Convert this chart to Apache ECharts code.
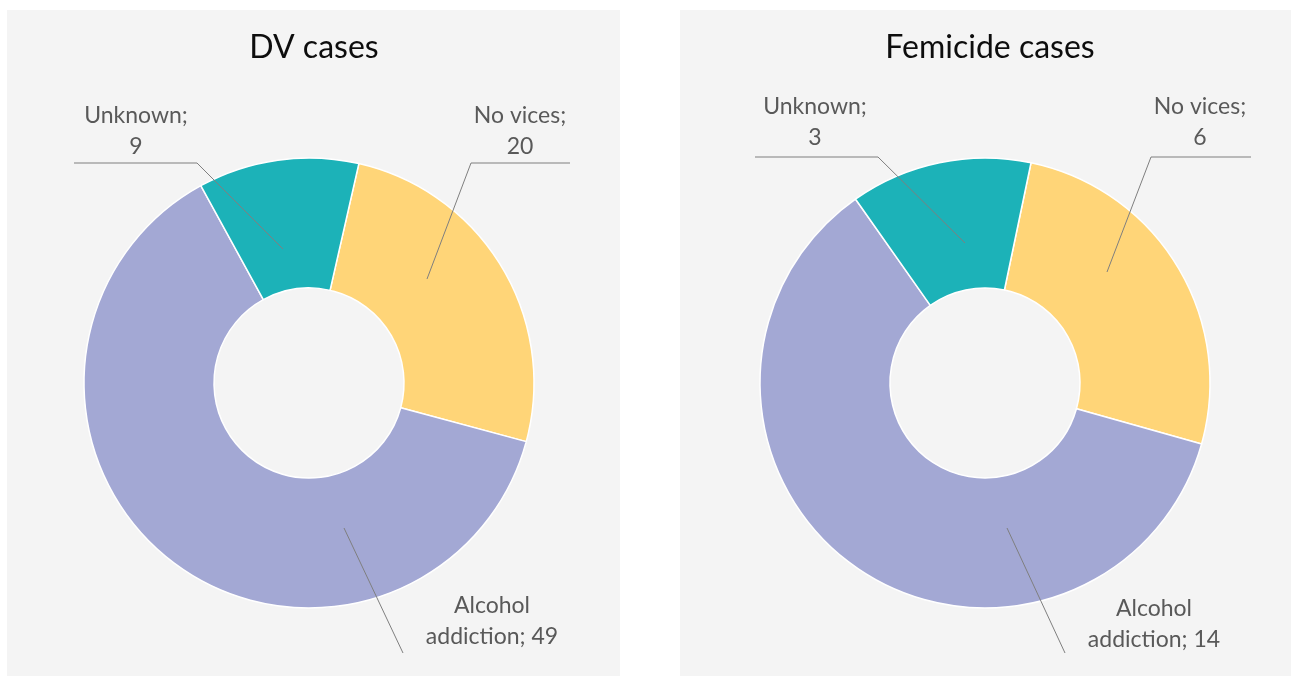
<!DOCTYPE html>
<html>
<head>
<meta charset="utf-8">
<script src="https://cdn.jsdelivr.net/npm/echarts@6/dist/echarts.min.js"></script>
<style>
  html, body { margin: 0; padding: 0; background: #fff; }
  #chart { width: 1291px; height: 676px; }
</style>
</head>
<body>
<div id="chart"></div>
<script>
// categories and values
const categories = ["No vices", "Alcohol addiction", "Unknown"]
const dvValues = [20, 49, 9]
const femicideValues = [6, 14, 3]
const titles = ["DV cases", "Femicide cases"]

const sliceColors = ["#FFD578", "#A3A8D4", "#1CB2B8"]
const font = "Lato, 'Open Sans', sans-serif"

// label placement relative to each donut centre (text centre + leader line points)
const dvSpots = [
  { text: [211, -252], line: [[118, -104], [162, -220], [261, -220]] },
  { text: [183, 238], line: [[35, 145], [94, 270]] },
  { text: [-173, -252], line: [[-26, -134], [-112, -220], [-235, -220]] },
]
const femicideSpots = [
  { text: [215, -261], line: [[122, -111], [166, -226], [266, -226]] },
  { text: [169, 241], line: [[22, 145], [80, 270]] },
  { text: [-170, -261], line: [[-20, -140], [-107, -226], [-230, -226]] },
]

function labelText(p) {
  const name = p.name
  if (name.indexOf(" ") > 0 && name.length > 10) {
    const i = name.indexOf(" ")
    return name.slice(0, i) + "\n" + name.slice(i + 1) + "; " + p.value
  }
  return name + ";\n" + p.value
}

function donut(values, center, startAngle) {
  return {
    type: "pie",
    center: center,
    radius: [95, 225],
    startAngle: startAngle,
    clockwise: true,
    silent: true,
    animation: false,
    z: 2,
    itemStyle: { borderColor: "#ffffff", borderWidth: 1.5 },
    label: { show: false },
    labelLine: { show: false },
    data: values.map((v, i) => ({
      name: categories[i],
      value: v,
      itemStyle: { color: sliceColors[i] },
    })),
  }
}

// transparent copy on top, carrying the labels and leader lines
function labels(values, center, startAngle, spots) {
  const [cx, cy] = center
  return {
    type: "pie",
    center: center,
    radius: [95, 225],
    startAngle: startAngle,
    clockwise: true,
    avoidLabelOverlap: false,
    silent: true,
    animation: false,
    z: 5,
    itemStyle: { color: "rgba(0,0,0,0)", borderWidth: 0 },
    label: {
      show: true,
      position: "outside",
      formatter: labelText,
      color: "#595959",
      fontFamily: font,
      fontSize: 23,
      lineHeight: 31,
      align: "center",
    },
    labelLine: {
      show: true,
      showAbove: true,
      lineStyle: { color: "#7f7f7f", width: 1 },
    },
    labelLayout: (params) => {
      const s = spots[params.dataIndex]
      return {
        x: cx + s.text[0],
        y: cy + s.text[1],
        align: "center",
        verticalAlign: "middle",
        labelLinePoints: s.line.map((pt) => [cx + pt[0], cy + pt[1]]),
      }
    },
    data: values.map((v, i) => ({ name: categories[i], value: v })),
  }
}

const chart = echarts.init(document.getElementById("chart"), null, { renderer: "canvas" })
chart.setOption({
  backgroundColor: "#ffffff",
  animation: false,
  graphic: [
    { type: "rect", z: -10, silent: true, shape: { x: 7, y: 10, width: 613, height: 666 }, style: { fill: "#F4F4F4" } },
    { type: "rect", z: -10, silent: true, shape: { x: 680, y: 10, width: 611, height: 666 }, style: { fill: "#F4F4F4" } },
  ],
  title: [
    {
      text: titles[0],
      left: 309,
      top: 27,
      textAlign: "center",
      textStyle: { fontFamily: font, fontSize: 32, fontWeight: "normal", color: "#0d0d0d" },
    },
    {
      text: titles[1],
      left: 985,
      top: 27,
      textAlign: "center",
      textStyle: { fontFamily: font, fontSize: 32, fontWeight: "normal", color: "#0d0d0d" },
    },
  ],
  series: [
    donut(dvValues, [309, 383], 77.2),
    donut(femicideValues, [985, 383], 78.2),
    labels(dvValues, [309, 383], 77.2, dvSpots),
    labels(femicideValues, [985, 383], 78.2, femicideSpots),
  ],
})
</script>
</body>
</html>
